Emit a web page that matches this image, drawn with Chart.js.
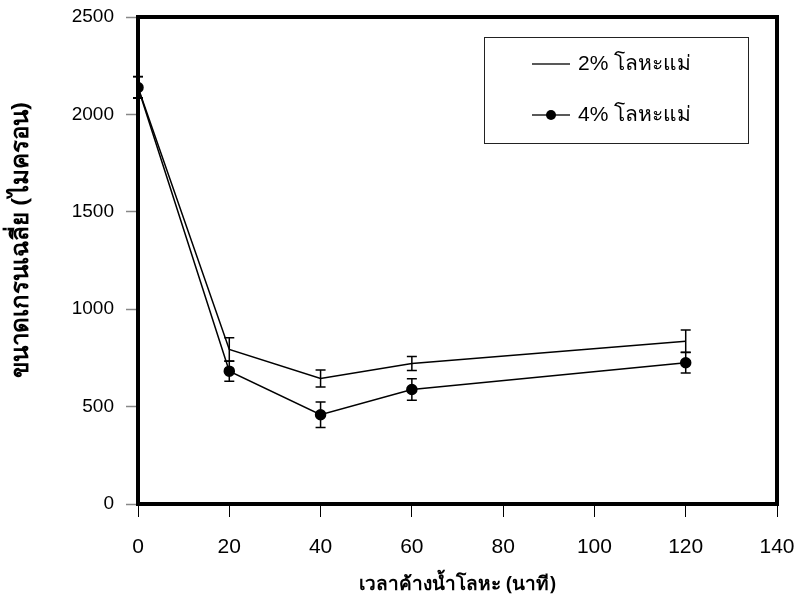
<!DOCTYPE html>
<html>
<head>
<meta charset="utf-8">
<script src="https://cdn.jsdelivr.net/npm/chart.js@4"></script>
<style>
  html, body { margin: 0; padding: 0; background: #fff; }
  #wrap { width: 798px; height: 607px; }
</style>
</head>
<body>
<div id="wrap"><canvas id="myChart" width="798" height="607"></canvas></div>
<script>
// holding time (minutes)
let times = [0, 20, 40, 60, 120];

// mean grain size (micron) and error for each alloy content
let grain2 = [2140, 793, 644, 721, 836];
let err2 = [55, 60, 44, 36, 57];
let grain4 = [2138, 682, 458, 588, 725];
let err4 = [55, 52, 65, 55, 53];

let seriesLabels = ["2% โลหะแม่", "4% โลหะแม่"];
let xTicks = [0, 20, 40, 60, 80, 100, 120, 140];
let yTicks = [0, 500, 1000, 1500, 2000, 2500];
let xTitle = "เวลาค้างน้ำโลหะ (นาที)";
let yTitle = "ขนาดเกรนเฉลี่ย (ไมครอน)";

function toPoints(ys) {
  return times.map(function (t, i) {
    return { x: t, y: ys[i] };
  });
}

// error bars drawn through the scales
const errorBars = {
  id: "errorBars",
  afterDatasetsDraw(chart) {
    let ctx = chart.ctx;
    let xs = chart.scales.x;
    let ys = chart.scales.y;
    let errs = [err2, err4];
    ctx.save();
    ctx.strokeStyle = "#000";
    ctx.lineWidth = 1.5;
    chart.data.datasets.forEach(function (ds, d) {
      ds.data.forEach(function (p, i) {
        let px = xs.getPixelForValue(p.x);
        let top = ys.getPixelForValue(p.y + errs[d][i]);
        let bot = ys.getPixelForValue(p.y - errs[d][i]);
        ctx.beginPath();
        ctx.moveTo(px, top);
        ctx.lineTo(px, bot);
        ctx.moveTo(px - 5, top);
        ctx.lineTo(px + 5, top);
        ctx.moveTo(px - 5, bot);
        ctx.lineTo(px + 5, bot);
        ctx.stroke();
      });
    });
    ctx.restore();
  },
};

// thick frame round the plot, the boxed legend and the y title
const frameAndLegend = {
  id: "frameAndLegend",
  afterDraw(chart) {
    let ctx = chart.ctx;
    let a = chart.chartArea;
    ctx.save();
    ctx.strokeStyle = "#000";
    ctx.lineWidth = 4;
    ctx.strokeRect(a.left, a.top, a.right - a.left, a.bottom - a.top);

    // legend box
    let bx = a.left + 346;
    let by = a.top + 20;
    ctx.lineWidth = 1;
    ctx.strokeStyle = "#222";
    ctx.strokeRect(bx + 0.5, by + 0.5, 264, 106);

    ctx.font = "21px 'Liberation Sans', Arial, sans-serif";
    ctx.fillStyle = "#000";
    ctx.textBaseline = "middle";
    let rows = [by + 27, by + 78];
    ctx.lineWidth = 1.5;
    rows.forEach(function (ry, i) {
      ctx.beginPath();
      ctx.moveTo(bx + 48, ry);
      ctx.lineTo(bx + 86, ry);
      ctx.stroke();
      if (i === 1) {
        ctx.beginPath();
        ctx.arc(bx + 67, ry, 5, 0, Math.PI * 2);
        ctx.fill();
      }
      ctx.fillText(seriesLabels[i], bx + 94, ry);
    });

    // y axis title, rotated
    ctx.translate(21, 240);
    ctx.rotate(-Math.PI / 2);
    ctx.textAlign = "center";
    ctx.font = "bold 24px 'Noto Sans', sans-serif";
    ctx.fillText(yTitle, 0, 0);
    ctx.restore();
  },
};

let ctx = document.getElementById("myChart").getContext("2d");
let chart = new Chart(ctx, {
  type: "line",
  data: {
    datasets: [
      {
        label: seriesLabels[0],
        data: toPoints(grain2),
        borderColor: "#000",
        borderWidth: 1.5,
        pointRadius: 0,
        tension: 0,
      },
      {
        label: seriesLabels[1],
        data: toPoints(grain4),
        borderColor: "#000",
        backgroundColor: "#000",
        borderWidth: 1.5,
        pointRadius: 5,
        pointBackgroundColor: "#000",
        tension: 0,
      },
    ],
  },
  options: {
    responsive: false,
    animation: false,
    layout: { padding: { left: 0, right: 21, top: 17, bottom: 0 } },
    plugins: {
      legend: { display: false },
      tooltip: { enabled: false },
    },
    scales: {
      x: {
        type: "linear",
        min: 0,
        max: 140,
        afterBuildTicks(scale) {
          scale.ticks = xTicks.map(function (v) { return { value: v }; });
        },
        afterFit(scale) {
          scale.height = 103;
          scale.paddingLeft = 0;
          scale.paddingRight = 0;
        },
        border: { display: false },
        grid: {
          drawOnChartArea: false,
          drawTicks: true,
          tickLength: 13,
          tickColor: "#000",
          tickWidth: 1,
        },
        ticks: {
          color: "#000",
          padding: 18,
          maxRotation: 0,
          callback: function (v) { return String(v); },
          font: { family: "'Liberation Sans', Arial, sans-serif", size: 21 },
        },
        title: {
          display: true,
          text: xTitle,
          color: "#000",
          padding: { top: 2, bottom: 11 },
          font: { family: "'Noto Sans', sans-serif", size: 19, weight: "bold" },
        },
      },
      y: {
        min: 0,
        max: 2500,
        afterBuildTicks(scale) {
          scale.ticks = yTicks.map(function (v) { return { value: v }; });
        },
        afterFit(scale) {
          scale.width = 138;
          scale.paddingTop = 0;
          scale.paddingBottom = 0;
        },
        border: { display: false },
        grid: {
          drawOnChartArea: false,
          drawTicks: true,
          tickLength: 12,
          tickColor: "#888",
          tickWidth: 1.5,
        },
        ticks: {
          color: "#000",
          padding: 12,
          callback: function (v) { return String(v); },
          font: { family: "'Liberation Sans', Arial, sans-serif", size: 19 },
        },
        title: { display: false },
      },
    },
  },
  plugins: [errorBars, frameAndLegend],
});
</script>
</body>
</html>
